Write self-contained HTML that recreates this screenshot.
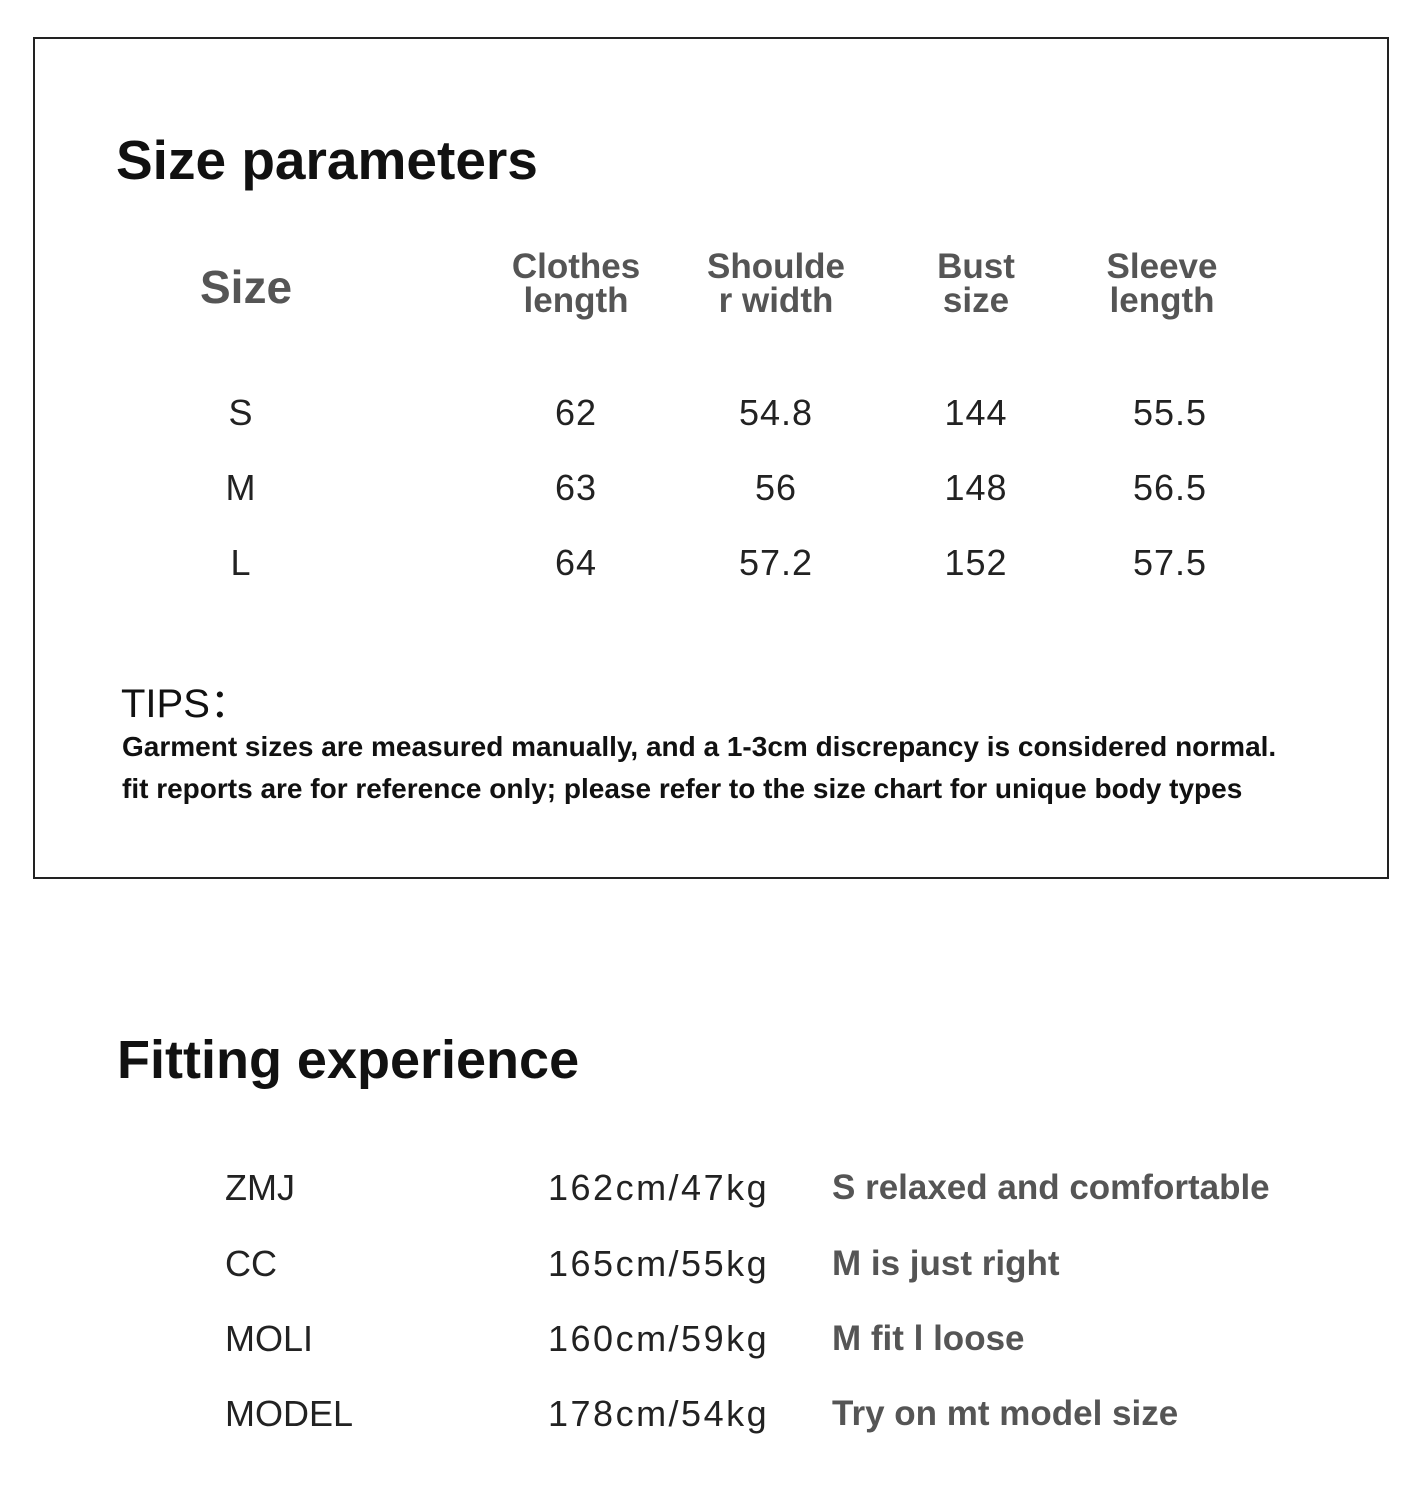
<!DOCTYPE html>
<html><head><meta charset="utf-8"><style>
body{margin:0;width:1425px;height:1504px;background:#fff;position:relative;overflow:hidden;font-family:"Liberation Sans",sans-serif}
.a{position:absolute;white-space:nowrap;line-height:1}
.box{position:absolute;left:33px;top:37px;width:1352px;height:838px;border:2px solid #222}
.h{font-weight:bold;color:#111;font-size:55px}
.ch{font-weight:bold;color:#555;font-size:35px;text-align:center;line-height:34px;transform:translateX(-50%)}
.d{font-size:36px;color:#222;transform:translateX(-50%);letter-spacing:1px}
.r{font-size:36px;color:#222}
.g{font-size:35px;color:#555;font-weight:bold}
</style></head><body>
<div class="box"></div>
<div class="a h" style="left:116px;top:133px">Size parameters</div>
<div class="a" style="left:200px;top:264px;font-size:46px;font-weight:bold;color:#555">Size</div>
<div class="a ch" style="left:576px;top:250px">Clothes<br>length</div>
<div class="a ch" style="left:776px;top:250px">Shoulde<br>r width</div>
<div class="a ch" style="left:976px;top:250px">Bust<br>size</div>
<div class="a ch" style="left:1162px;top:250px">Sleeve<br>length</div>

<div class="a d" style="left:241px;top:395px">S</div>
<div class="a d" style="left:576px;top:395px">62</div>
<div class="a d" style="left:776px;top:395px">54.8</div>
<div class="a d" style="left:976px;top:395px">144</div>
<div class="a d" style="left:1170px;top:395px">55.5</div>
<div class="a d" style="left:241px;top:470px">M</div>
<div class="a d" style="left:576px;top:470px">63</div>
<div class="a d" style="left:776px;top:470px">56</div>
<div class="a d" style="left:976px;top:470px">148</div>
<div class="a d" style="left:1170px;top:470px">56.5</div>
<div class="a d" style="left:241px;top:545px">L</div>
<div class="a d" style="left:576px;top:545px">64</div>
<div class="a d" style="left:776px;top:545px">57.2</div>
<div class="a d" style="left:976px;top:545px">152</div>
<div class="a d" style="left:1170px;top:545px">57.5</div>

<div class="a" style="left:121px;top:684px;font-size:40px;color:#111">TIPS：</div>
<div class="a" style="left:122px;top:733px;font-size:28px;font-weight:bold;color:#111">Garment sizes are measured manually, and a 1-3cm discrepancy is considered normal.</div>
<div class="a" style="left:122px;top:775px;font-size:28px;font-weight:bold;color:#111">fit reports are for reference only; please refer to the size chart for unique body types</div>

<div class="a h" style="left:117px;top:1033px;font-size:54px">Fitting experience</div>

<div class="a r" style="left:225px;top:1170px">ZMJ</div>
<div class="a r" style="left:548px;top:1170px;letter-spacing:2.5px">162cm/47kg</div>
<div class="a g" style="left:832px;top:1170px">S relaxed and comfortable</div>
<div class="a r" style="left:225px;top:1246px">CC</div>
<div class="a r" style="left:548px;top:1246px;letter-spacing:2.5px">165cm/55kg</div>
<div class="a g" style="left:832px;top:1246px">M is just right</div>
<div class="a r" style="left:225px;top:1321px">MOLI</div>
<div class="a r" style="left:548px;top:1321px;letter-spacing:2.5px">160cm/59kg</div>
<div class="a g" style="left:832px;top:1321px">M fit l loose</div>
<div class="a r" style="left:225px;top:1396px">MODEL</div>
<div class="a r" style="left:548px;top:1396px;letter-spacing:2.5px">178cm/54kg</div>
<div class="a g" style="left:832px;top:1396px">Try on mt model size</div>
</body></html>
